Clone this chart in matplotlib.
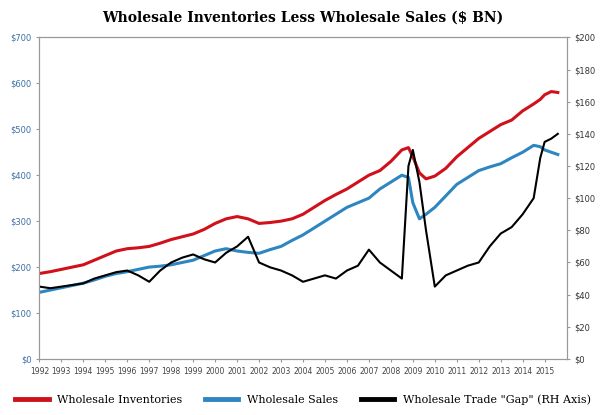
import matplotlib.pyplot as plt

# readings, roughly every half year
years = [1992.0, 1992.5, 1993.0, 1993.5, 1994.0, 1994.5, 1995.0, 1995.5, 1996.0, 1996.5,
         1997.0, 1997.5, 1998.0, 1998.5, 1999.0, 1999.5, 2000.0, 2000.5, 2001.0, 2001.5,
         2002.0, 2002.5, 2003.0, 2003.5, 2004.0, 2004.5, 2005.0, 2005.5, 2006.0, 2006.5,
         2007.0, 2007.5, 2008.0, 2008.5, 2008.8, 2009.0, 2009.3, 2009.6, 2010.0, 2010.5,
         2011.0, 2011.5, 2012.0, 2012.5, 2013.0, 2013.5, 2014.0, 2014.5, 2014.8, 2015.0,
         2015.3, 2015.6]
inventories = [186, 190, 195, 200, 205, 215, 225, 235, 240, 242, 245, 252, 260, 266, 272, 282,
               295, 305, 310, 305, 295, 297, 300, 305, 315, 330, 345, 358, 370, 385, 400, 410,
               430, 455, 460, 440, 405, 392, 398, 415, 440, 460, 480, 495, 510, 520, 540, 555,
               565, 575, 582, 580]
sales = [145, 150, 155, 160, 165, 172, 180, 186, 190, 195, 200, 202, 205, 210, 215, 225,
         235, 240, 235, 232, 230, 238, 245, 258, 270, 285, 300, 315, 330, 340, 350, 370,
         385, 400, 395, 340, 305, 315, 330, 355, 380, 395, 410, 418, 425, 438, 450, 465,
         462, 455, 450, 445]
gap = [45, 44, 45, 46, 47, 50, 52, 54, 55, 52, 48, 55, 60, 63, 65, 62, 60, 66, 70, 76,
       60, 57, 55, 52, 48, 50, 52, 50, 55, 58, 68, 60, 55, 50, 120, 130, 110, 80, 45, 52,
       55, 58, 60, 70, 78, 82, 90, 100, 125, 135, 137, 140]

left_ticks = [0, 100, 200, 300, 400, 500, 600, 700]
right_ticks = [0, 20, 40, 60, 80, 100, 120, 140, 160, 180, 200]
year_ticks = list(range(1992, 2016))

fig, ax = plt.subplots(figsize=(6.06, 4.15), dpi=100)
fig.subplots_adjust(left=0.065, right=0.935, top=0.91, bottom=0.135)
l1, = ax.plot(years, inventories, color='#d0101a', lw=2.2, label='Wholesale Inventories')
l2, = ax.plot(years, sales, color='#2e86c1', lw=2.2, label='Wholesale Sales')
ax.set_ylim(0, 700)
ax.set_xlim(1992, 2016)
ax.set_yticks(left_ticks)
ax.set_yticklabels([f'${v}' for v in left_ticks], fontsize=6, color='#3a6ea5')
ax.set_xticks(year_ticks)
ax.set_xticklabels([str(y) for y in year_ticks], fontsize=5.5, color='#444444')

ax2 = ax.twinx()
l3, = ax2.plot(years, gap, color='black', lw=1.5, label='Wholesale Trade "Gap" (RH Axis)')
ax2.set_ylim(0, 200)
ax2.set_yticks(right_ticks)
ax2.set_yticklabels([f'${v}' for v in right_ticks], fontsize=6, color='#333333')

for a in (ax, ax2):
    for s in a.spines.values():
        s.set_color('#999999')
    a.tick_params(length=2, color='#999999')

fig.suptitle('Wholesale Inventories Less Wholesale Sales ($ BN)', fontsize=10,
             fontweight='bold', family='DejaVu Serif', y=0.975)
leg = fig.legend(handles=[l1, l2, l3], loc='lower center', ncol=3, frameon=False,
                 handlelength=3, bbox_to_anchor=(0.5, 0.0),
                 prop={'family': 'DejaVu Serif', 'size': 8})
for line in leg.get_lines():
    line.set_linewidth(3.5)

fig.savefig('out.png')
